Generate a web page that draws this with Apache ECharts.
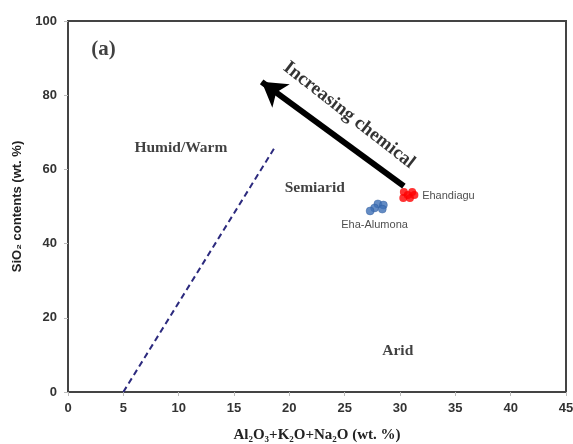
<!DOCTYPE html>
<html>
<head>
<meta charset="utf-8">
<script src="https://cdn.jsdelivr.net/npm/echarts@6/dist/echarts.min.js"></script>
<style>
html, body { margin: 0; padding: 0; background: #fff; }
#main { width: 573px; height: 444px; }
</style>
</head>
<body>
<div id="main"></div>
<script>
var myChart = echarts.init(document.getElementById('main'));

// x axis: Al2O3+K2O+Na2O, y axis: SiO2
var xTicks = [0, 5, 10, 15, 20, 25, 30, 35, 40, 45];
var yTicks = [0, 20, 40, 60, 80, 100];

// samples [x, y]
var ehandiagu = [[30.35, 53.9], [31.1, 53.9], [30.3, 52.3], [30.9, 52.3], [31.3, 53.1], [30.7, 53.1]];
var ehaAlumona = [[28.0, 50.7], [28.5, 50.4], [27.7, 49.6], [28.4, 49.3], [27.3, 48.8]];

// boundary humid / semiarid
var boundary = [[5, 0], [18.7, 66]];
// chemical weathering arrow, tail -> head
var arrow = [[30.35, 55.5], [17.5, 83.6]];

// labels [x, y, text]
var panelLabel = [[3.2, 92.2, '(a)']];
var regionLabels = [
	[10.2, 65.8, 'Humid/Warm'],
	[22.3, 55.0, 'Semiarid'],
	[29.8, 11.1, 'Arid']
];
var sampleLabels = [
	[32.0, 52.8, 'Ehandiagu'],
	[27.7, 45.0, 'Eha-Alumona']
];
var arrowText = [[25.4, 74.6, 'Increasing chemical']];

var serif = '"Liberation Serif", "Times New Roman", serif';
var sans = '"Liberation Sans", Arial, sans-serif';

function textOf(p) { return p.value[2]; }

var option = {
	backgroundColor: '#fff',
	animation: false,
	grid: {
		left: 68,
		right: 7,
		top: 21,
		bottom: 52,
		outerBoundsMode: 'none',
		show: true,
		borderColor: '#444',
		borderWidth: 2
	},
	xAxis: {
		type: 'value',
		min: 0,
		max: 45,
		interval: 5,
		name: 'Al\u2082O\u2083+K\u2082O+Na\u2082O (wt. %)',
		nameLocation: 'middle',
		nameGap: 36,
		nameTextStyle: { fontFamily: serif, fontWeight: 'bold', fontSize: 15, color: '#222' },
		axisLine: { lineStyle: { color: '#444', width: 2 } },
		axisTick: { show: true, length: 4, lineStyle: { color: '#bbb' } },
		axisLabel: { fontFamily: sans, fontWeight: 'bold', fontSize: 13, color: '#333', margin: 10 },
		splitLine: { show: false }
	},
	yAxis: {
		type: 'value',
		min: 0,
		max: 100,
		interval: 20,
		name: 'SiO\u2082 contents (wt. %)',
		nameLocation: 'middle',
		nameGap: 42,
		nameTextStyle: { fontFamily: sans, fontWeight: 'bold', fontSize: 13, color: '#222' },
		axisLine: { show: true, lineStyle: { color: '#444', width: 2 } },
		axisTick: { show: true, length: 4, lineStyle: { color: '#bbb' } },
		axisLabel: { fontFamily: sans, fontWeight: 'bold', fontSize: 13, color: '#333', margin: 11 },
		splitLine: { show: false }
	},
	series: [
		{
			type: 'line',
			data: boundary,
			symbol: 'none',
			silent: true,
			lineStyle: { color: '#2c2a7e', width: 2, type: [6, 4] },
			z: 2
		},
		{
			type: 'line',
			data: arrow,
			showSymbol: false,
			lineStyle: { width: 0 },
			silent: true,
			markLine: {
				silent: true,
				symbol: ['none', 'arrow'],
				symbolSize: [22, 24],
				label: { show: false },
				lineStyle: { color: '#000', width: 6, type: 'solid' },
				data: [[{ coord: arrow[0] }, { coord: arrow[1] }]]
			}
		},
		{
			name: 'Eha-Alumona',
			type: 'scatter',
			data: ehaAlumona,
			symbolSize: 8,
			itemStyle: { color: '#3d6fb5', borderColor: '#2d5a9a', borderWidth: 0.5 },
			z: 4
		},
		{
			name: 'Ehandiagu',
			type: 'scatter',
			data: ehandiagu,
			symbolSize: 8,
			itemStyle: { color: '#ff0000' },
			z: 4
		},
		{
			type: 'scatter',
			data: regionLabels,
			symbolSize: 0,
			silent: true,
			label: {
				show: true,
				position: 'inside',
				formatter: textOf,
				fontFamily: serif,
				fontWeight: 'bold',
				fontSize: 15.5,
				color: '#111'
			}
		},
		{
			type: 'scatter',
			data: panelLabel,
			symbolSize: 0,
			silent: true,
			label: {
				show: true,
				position: 'inside',
				formatter: textOf,
				fontFamily: serif,
				fontWeight: 'bold',
				fontSize: 21,
				color: '#111'
			}
		},
		{
			type: 'scatter',
			data: [
				{ value: sampleLabels[0], label: { align: 'left' } },
				{ value: sampleLabels[1] }
			],
			symbolSize: 0,
			silent: true,
			label: {
				show: true,
				position: 'inside',
				formatter: textOf,
				fontFamily: sans,
				fontSize: 11,
				color: '#222'
			}
		},
		{
			type: 'scatter',
			data: arrowText,
			symbolSize: 0,
			silent: true,
			label: {
				show: true,
				position: 'inside',
				rotate: -38,
				formatter: textOf,
				fontFamily: serif,
				fontWeight: 'bold',
				fontSize: 19,
				color: '#000'
			}
		}
	]
};

myChart.setOption(option);
</script>
</body>
</html>
